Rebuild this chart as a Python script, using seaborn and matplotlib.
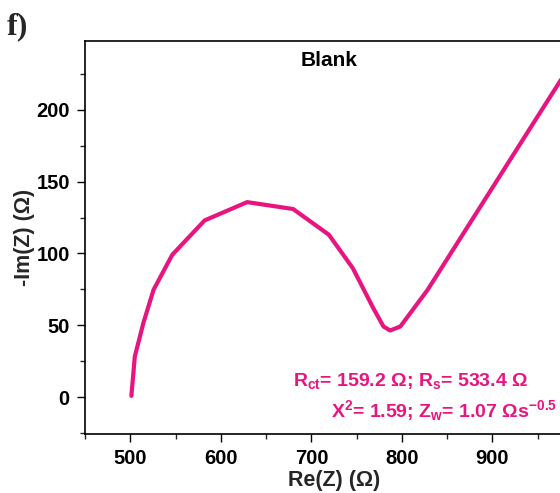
import matplotlib
matplotlib.use("Agg")
import matplotlib.pyplot as plt
from matplotlib.ticker import MultipleLocator
import seaborn as sns
import pandas as pd

# Nyquist data for the blank sample
re_z = [501.1, 504.9, 514.3, 525.6, 546.3, 582.1, 629.0, 679.8, 719.3,
        745.7, 768.3, 779.6, 787.0, 798.3, 828.4, 948.9, 986.4, 1000.0]
neg_im_z = [0.9, 28.3, 51.5, 74.7, 99.1, 123.0, 135.7, 130.9, 113.0,
            89.8, 62.0, 49.2, 46.4, 49.2, 74.7, 194.3, 231.4, 245.0]

x_ticks = [500, 600, 700, 800, 900]
y_ticks = [0, 50, 100, 150, 200]

sample_name = "Blank"
fit_line1 = "R$_{ct}$= 159.2 Ω; R$_{s}$= 533.4 Ω"
fit_line2 = "Χ$^{2}$= 1.59; Z$_{w}$= 1.07 Ωs$^{-0.5}$"
panel_label = "f)"

line_color = "#E8147F"

sns.set_theme(style="ticks")
plt.rcParams["font.family"] = ["Liberation Sans", "DejaVu Sans"]
plt.rcParams["font.weight"] = "bold"
plt.rcParams["mathtext.fontset"] = "custom"
plt.rcParams["mathtext.rm"] = "Liberation Sans:bold"
plt.rcParams["mathtext.it"] = "Liberation Sans:bold"
plt.rcParams["mathtext.bf"] = "Liberation Sans:bold"
plt.rcParams["mathtext.default"] = "rm"

df = pd.DataFrame({"Re": re_z, "NegIm": neg_im_z})

fig = plt.figure(figsize=(5.6, 4.93), dpi=100)
ax = fig.add_axes([0.152, 0.12, 0.889, 0.796])

sns.lineplot(data=df, x="Re", y="NegIm", sort=False, color=line_color,
             linewidth=3.0, ax=ax, estimator=None)

ax.set_xlim(450, 1000)
ax.set_ylim(-25.5, 247.5)
ax.set_xticks(x_ticks)
ax.set_yticks(y_ticks)
ax.xaxis.set_minor_locator(MultipleLocator(50))
ax.yaxis.set_minor_locator(MultipleLocator(25))
ax.tick_params(which="major", direction="out", length=6, width=1.0,
               labelsize=14.5, colors="black", pad=5)
ax.tick_params(which="minor", direction="out", length=3.5, width=1.0)
for lab in ax.get_xticklabels() + ax.get_yticklabels():
    lab.set_fontweight("bold")

for s in ax.spines.values():
    s.set_linewidth(1.2)
    s.set_color("black")

ax.set_xlabel("Re(Z) (Ω)", fontsize=15.5, fontweight="bold", labelpad=1)
ax.set_ylabel("-Im(Z) (Ω)", fontsize=15.5, fontweight="bold", labelpad=1)

fig.text(329 / 560, 1 - 60 / 493, sample_name, ha="center",
         va="center", fontsize=15, fontweight="bold", color="black")
fig.text(528 / 560, 1 - 381 / 493, fit_line1,
         ha="right", va="center", fontsize=14, fontweight="bold",
         color=line_color)
fig.text(557 / 560, 1 - 411 / 493, fit_line2,
         ha="right", va="center", fontsize=14, fontweight="bold",
         color=line_color)
fig.text(7 / 560, 1 - 27 / 493, panel_label, ha="left", va="center",
         fontsize=23, fontweight="bold", family="Liberation Serif")

fig.savefig("out.png", dpi=100)
